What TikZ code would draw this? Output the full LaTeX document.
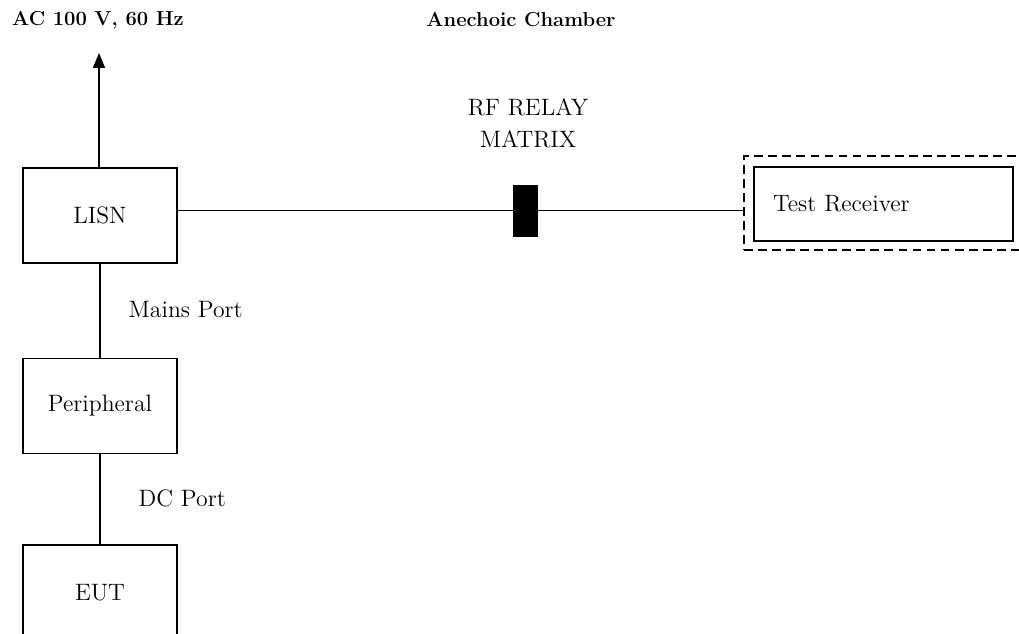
\documentclass[tikz,border=0pt]{standalone}
\usetikzlibrary{arrows.meta}
\begin{document}
\begin{tikzpicture}[
            box/.style={draw, line width=1pt, minimum width=3.07cm, minimum height=1.9cm, font=\fontsize{13.5}{16}\selectfont},
            lbl/.style={font=\fontsize{13.5}{16}\selectfont},
            head/.style={font=\fontsize{11.5}{14}\bfseries},
            wire/.style={line width=0.9pt}
        ]
            \clip (0,0) rectangle (20.38,12.66);
            \node[box] (lisn) at (2.0,8.35) {LISN};
            \node[box] (periph) at (2.0,4.54) {Peripheral};
            \node[box] (eut) at (2.0,0.81) {EUT};
            \coordinate (ac) at (1.98,11.6);
            \draw[wire, -{Triangle[width=0.24cm,length=0.3cm]}] (lisn.north -| ac) -- (ac);
            \node[head, anchor=west] (actext) at (0.12,12.26) {AC 100 V, 60 Hz};
            \node[head] (chamber) at (10.42,12.26) {Anechoic Chamber};
            \draw[wire] (lisn.south) -- (periph.north);
            \draw[wire] (periph.south) -- (eut.north);
            \node[lbl, anchor=west] (mains) at (2.45,6.46) {Mains Port};
            \node[lbl, anchor=west] (dc) at (2.65,2.7) {DC Port};
            \node[draw, fill=black, minimum width=0.48cm, minimum height=1.02cm, inner sep=0pt] (relay) at (10.5,8.45) {};
            \node[lbl, align=center] (relaytext) at (10.56,10.2) {RF RELAY\\[2pt] MATRIX};
            \node[draw, dashed, line width=1pt, dash pattern=on 5pt off 3pt, minimum width=6.0cm, minimum height=1.88cm, anchor=west] (rxframe) at (14.86,8.6) {};
            \node[draw, line width=1pt, minimum width=5.18cm, minimum height=1.48cm, text width=4.42cm, inner xsep=0.38cm, align=left, lbl] (rx) at (17.67,8.58) {Test Receiver};
            \draw[wire] (lisn.east |- relay) -- (relay.west);
            \draw[wire] (relay.east) -- (rxframe.west |- relay);
        \end{tikzpicture}
\end{document}
